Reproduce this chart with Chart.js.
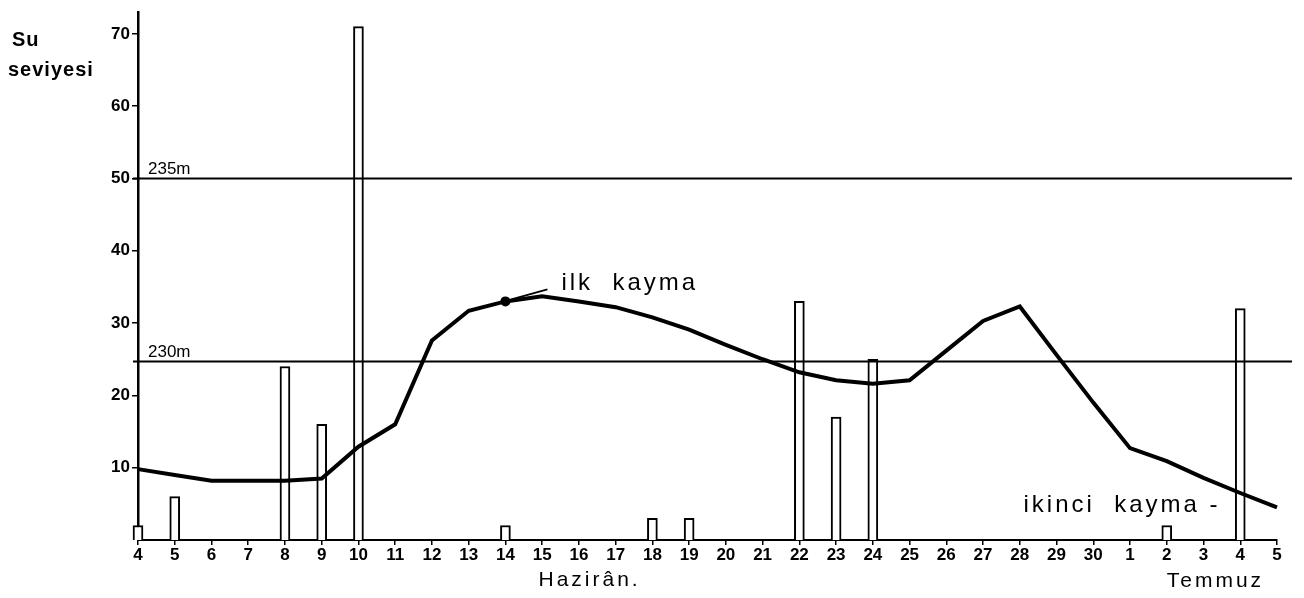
<!DOCTYPE html>
<html>
<head>
<meta charset="utf-8">
<script src="https://cdn.jsdelivr.net/npm/chart.js@4/dist/chart.umd.min.js"></script>
<style>
html,body{margin:0;padding:0;background:#fff;}
#wrap{width:1304px;height:598px;position:relative;}
</style>
</head>
<body>
<div id="wrap"><canvas id="c" width="1304" height="598"></canvas></div>
<script>
// Days: 4 Haziran .. 30 Haziran, 1 Temmuz .. 5 Temmuz
const dayLabels = ['4','5','6','7','8','9','10','11','12','13','14','15','16','17','18','19','20','21','22','23','24','25','26','27','28','29','30','1','2','3','4','5'];
// Bars (daily values, null = no bar)
const barValues = [2,6,null,null,24,16,71,null,null,null,2,null,null,null,3,3,null,null,33,17,25,null,null,null,null,null,null,null,2,null,32,null];
// Water level curve (Su seviyesi)
const levelValues = [9.8,9.0,8.2,8.2,8.2,8.5,12.9,16.0,27.6,31.7,33.0,33.7,33.0,32.2,30.8,29.1,27.0,25.0,23.2,22.1,21.6,22.1,26.2,30.3,32.3,25.6,19.0,12.7,10.9,8.6,6.5,4.5];
// Reference levels
const refLevels = [{y:50, label:'235m'}, {y:24.8, label:'230m'}];
const yTicks = [10,20,30,40,50,60,70];
const firstSlideIndex = 10; // "ilk kayma" at 14 Haziran

const HAND = '"Liberation Sans", "DejaVu Sans", sans-serif';

const overlay = {
  id:'overlay',
  afterDatasetsDraw(chart){
    const {ctx, scales:{x,y}, chartArea} = chart;
    ctx.save();
    ctx.strokeStyle = '#000';
    ctx.fillStyle = '#000';
    // reference lines
    refLevels.forEach(r=>{
      const py = Math.round(y.getPixelForValue(r.y))+0.5;
      ctx.lineWidth = 2;
      ctx.beginPath();
      ctx.moveTo(chartArea.left-5, py);
      ctx.lineTo(chartArea.right+15, py);
      ctx.stroke();
      ctx.font = '17px ' + HAND;
      ctx.letterSpacing = '0px';
      ctx.textAlign='left'; ctx.textBaseline='alphabetic';
      ctx.fillText(r.label, chartArea.left+10, py-5);
    });
    // "ilk kayma" pointer
    const px = x.getPixelForValue(firstSlideIndex), py = y.getPixelForValue(levelValues[firstSlideIndex]);
    ctx.lineWidth = 2;
    ctx.beginPath();
    ctx.moveTo(px+6, py-2);
    ctx.lineTo(px+42, py-12);
    ctx.stroke();
    ctx.font = '24px ' + HAND;
    ctx.letterSpacing = '3px';
    ctx.textBaseline='middle';
    ctx.fillText('ilk  kayma', px+56, py-18);
    // "ikinci kayma -"
    ctx.fillText('ikinci  kayma -', x.getPixelForValue(24.1), y.getPixelForValue(4.8));
    // axis captions
    ctx.font = '21px ' + HAND;
    ctx.letterSpacing = '3px';
    ctx.fillText('Hazirân.', x.getPixelForValue(10.9), 580);
    ctx.fillText('Temmuz', x.getPixelForValue(28.0), 581);
    ctx.font = 'bold 20px ' + HAND;
    ctx.letterSpacing = '1px';
    ctx.fillText('Su', 12, 40);
    ctx.fillText('seviyesi', 8, 70);
    ctx.restore();
  }
};

new Chart(document.getElementById('c'), {
  type:'bar',
  data:{
    datasets:[
      {
        type:'line',
        label:'Su seviyesi',
        data: levelValues.map((v,i)=>({x:i,y:v})),
        borderColor:'#000',
        borderWidth:4,
        tension:0,
        clip:false,
        pointRadius: c => c.dataIndex===firstSlideIndex ? 5 : 0,
        pointBackgroundColor:'#000',
        pointBorderWidth:0,
        order:0
      },
      {
        type:'bar',
        label:'bars',
        data: barValues.map((v,i)=>({x:i,y:v})).filter(d=>d.y!==null),
        backgroundColor:'#fff',
        borderColor:'#000',
        borderWidth:2,
        borderSkipped:'bottom',
        barThickness:10,
        clip:false,
        order:1
      }
    ]
  },
  options:{
    responsive:false,
    animation:false,
    layout:{padding:{top:5,right:27,left:0,bottom:0}},
    plugins:{legend:{display:false}, tooltip:{enabled:false}},
    scales:{
      x:{
        type:'linear', min:0, max:dayLabels.length-1, offset:false,
        afterFit(s){ s.height = 58; },
        afterBuildTicks(s){ s.ticks = dayLabels.map((_,i)=>({value:i})); },
        ticks:{ autoSkip:false, maxRotation:0, color:'#000', padding:0,
          font:{family:HAND, size:17, weight:'bold'},
          callback:(v)=>dayLabels[v] },
        grid:{ drawOnChartArea:false, drawTicks:true, tickLength:5, color:'#000', lineWidth:1.5, offset:false },
        border:{ display:true, color:'#000', width:2 }
      },
      y:{
        min:0, max:73,
        afterFit(s){ s.width = 138; },
        afterBuildTicks(s){ s.ticks = yTicks.map(v=>({value:v})); },
        ticks:{ color:'#000', padding:2, font:{family:HAND, size:17, weight:'bold'} },
        grid:{ drawOnChartArea:false, drawTicks:true, tickLength:6, color:'#000', lineWidth:1.5 },
        border:{ display:true, color:'#000', width:2.5 }
      }
    }
  },
  plugins:[overlay]
});
</script>
</body>
</html>
